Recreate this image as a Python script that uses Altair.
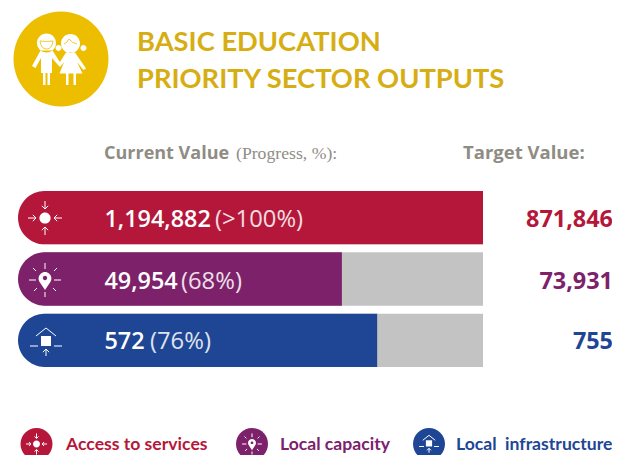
import altair as alt
import pandas as pd

# ---- data ----
categories = ["Access to services", "Local capacity", "Local infrastructure"]
legend_labels = ["Access to services", "Local capacity", "Local\u00a0\u00a0infrastructure"]
current_labels = ["1,194,882", "49,954", "572"]
progress_labels = ["(>100%)", "(68%)", "(76%)"]
progress_values = [100, 68, 76]
target_labels = ["871,846", "73,931", "755"]
colors = ["#B5173A", "#7D216B", "#1E4695"]
TRACK = "#C3C3C3"
GOLD = "#EDBE00"
TITLE_GOLD = "#D6AE12"
GREY = "#8F8C84"
HEAD_START = -5.44

W, H = 604, 447
OX, OY = 8, 8

df = pd.DataFrame({
    "cat": categories,
    "v": progress_values,
    "track": [100] * 3,
    "start": [HEAD_START] * 3,
})

x_scale = alt.Scale(domain=[-34 / 4.41, (W - 34) / 4.41], range=[0, W], nice=False, zero=False)
y_scale = alt.Scale(domain=categories, range=[183, 359], paddingInner=0.13, paddingOuter=0)
cscale = alt.Scale(domain=categories, range=colors)
X = lambda f: alt.X(f, type="quantitative", scale=x_scale, axis=None)
Y = alt.Y("cat:N", scale=y_scale, axis=None)
base = alt.Chart(df)

bars = base.mark_bar(cornerRadiusTopLeft=27, cornerRadiusBottomLeft=27).encode(
    x=X("start"), x2="v", y=Y,
    color=alt.Color("cat:N", scale=cscale, legend=None),
)
track = base.transform_calculate(zero="0").mark_bar(color=TRACK).encode(x=X("zero:Q"), x2="track", y=Y)


def text(s, x, y, size, color, font="Open Sans", weight="normal", align="left", opacity=1.0):
    return alt.Chart(pd.DataFrame({"t": [s]})).mark_text(
        font=font, fontSize=size, fontWeight=weight, color=color, align=align,
        baseline="alphabetic", opacity=opacity,
    ).encode(x=alt.value(x - OX), y=alt.value(y - OY), text="t:N")


def symbol(path, cx, cy, scale=1.0, fill=None, stroke=None, sw=1.0):
    kw = {}
    if fill:
        kw.update(fill=fill, filled=True, strokeWidth=0)
    else:
        kw.update(filled=False, stroke=stroke, strokeWidth=sw)
    return alt.Chart(pd.DataFrame({"a": [0]})).mark_point(
        shape=path, size=4 * scale * scale, opacity=1, **kw
    ).encode(x=alt.value(cx - OX), y=alt.value(cy - OY))


def circ(cx, cy, r):
    return f"M{cx - r} {cy}a{r} {r} 0 1 0 {2 * r} 0a{r} {r} 0 1 0 {-2 * r} 0Z"


def arrow(x0, y0, x1, y1):
    dx, dy = (x1 - x0), (y1 - y0)
    n = (dx * dx + dy * dy) ** 0.5
    ux, uy = dx / n, dy / n
    a = 3.2
    return (f"M{x0} {y0}L{x1} {y1}M{x1 - ux * a - uy * a:.2f} {y1 - uy * a + ux * a:.2f}L{x1} {y1}"
            f"L{x1 - ux * a + uy * a:.2f} {y1 - uy * a - ux * a:.2f}")


ICONS = {
    "access": (
        circ(0, 0, 5.6),
        arrow(0, -17, 0, -9) + arrow(0, 17, 0, 9) + arrow(-17, 0, -9, 0) + arrow(17, 0, 9, 0),
    ),
    "capacity": (
        "M0 10L-5.2 2.2A6.4 6.4 0 1 1 5.2 2.2Z",
        "M0 -17V-11M0 12V17M-16 0H-9M9 0H16M-9 -9L-12 -12M9 -9L12 -12M-8 8L-11 11M8 8L11 11",
    ),
    "infra": (
        "M-5 -6H5V4H-5Z",
        "M-10 -6L0 -14L10 -6M-16 4H-8M8 4H16" + arrow(0, 14, 0, 7),
    ),
}


def icon(name, cx, cy, color, scale=1.0, sw=1.0):
    f, s = ICONS[name]
    out = [symbol(f, cx, cy, scale, fill="#FFFFFF"), symbol(s, cx, cy, scale, stroke="#FFFFFF", sw=sw)]
    if name == "capacity":
        out.append(symbol(circ(0, -2, 2.2), cx, cy, scale, fill=color))
    return out


layers = [track, bars]

# badge with the children
layers.append(symbol(circ(0, 0, 47.5), 61, 59, fill=GOLD))
KIDS = (
    circ(-14.5, -16, 9.5)
    + "M-20.5 -8.5H-8.5L-0.5 4L-3 6L-9 -1V14H-11V26H-13.5V14H-15.5V26H-18V14H-20V-1L-25.5 9L-29 7Z"
    + circ(9.5, -15.5, 9.5) + circ(-2.5, -11, 3) + circ(22.5, -11, 3)
    + "M5 -6.5H14L25 9.5L22.5 11L16 3L21.5 14.5H15V26H12.5V14.5H7.5V26H5V14.5H-1.5L3 3L-1 8L-3 6Z"
)
layers.append(symbol(KIDS, 61, 59, fill="#FFFFFF"))
layers.append(symbol("M-21 -18Q-14.5 -17 -8 -18Q-9 -10 -14.5 -10Q-20 -10 -21 -18Z", 61, 59, stroke=GOLD, sw=0.8))
layers.append(symbol("M3 -15Q6 -16 8 -20Q11 -16 16 -15", 61, 59, stroke=GOLD, sw=0.8))

# titles
layers.append(text("BASIC EDUCATION", 137, 51, 27.3, TITLE_GOLD, font="Lato", weight="bold"))
layers.append(text("PRIORITY SECTOR OUTPUTS", 137, 88, 27.3, TITLE_GOLD, font="Lato", weight="bold"))

# column headers
layers.append(text("Current Value", 104, 159, 18, GREY, weight="bold"))
layers.append(text("(Progress, %):", 236, 159, 17.7, GREY, font="Liberation Serif"))
layers.append(text("Target Value:", 463, 159, 18.5, GREY, weight="bold"))

# rows
num_x = [104.5, 104.5, 104.5]
pct_x = [215, 181, 150]
base_y = [227, 289, 349]
names = ["access", "capacity", "infra"]
icon_c = [(45, 218), (45, 280), (46, 342)]
for i in range(3):
    layers.append(text(current_labels[i], num_x[i], base_y[i], 23.4, "#FFFFFF", weight=600))
    layers.append(text(progress_labels[i], pct_x[i], base_y[i], 23.8, "#FFFFFF", opacity=0.85))
    layers.append(text(target_labels[i], 613, base_y[i], 23.4, colors[i], weight="bold", align="right"))
    layers += icon(names[i], icon_c[i][0], icon_c[i][1], colors[i])

# legend
leg_c = [36.5, 252, 429]
leg_x = [66, 280, 456]
for i in range(3):
    layers.append(symbol(circ(0, 0, 16), leg_c[i], 444, fill=colors[i]))
    layers += icon(names[i], leg_c[i], 444, colors[i], 0.62, sw=1.0)
    layers.append(text(legend_labels[i], leg_x[i], 450, 17.6, colors[i], font="Lato", weight="bold"))

chart = alt.layer(*layers).properties(
    width=W, height=H, padding=0, autosize=alt.AutoSizeParams(type="none"),
    background="white",
).configure_view(stroke=None)

chart.save("out.html", embed_options={"renderer": "svg", "actions": False})
